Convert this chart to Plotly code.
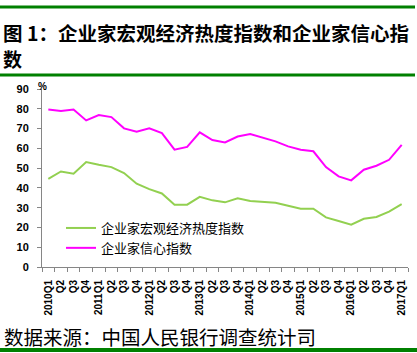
import plotly.graph_objects as go

quarters = ["2010Q1", "Q2", "Q3", "Q4", "2011Q1", "Q2", "Q3", "Q4",
            "2012Q1", "Q2", "Q3", "Q4", "2013Q1", "Q2", "Q3", "Q4",
            "2014Q1", "Q2", "Q3", "Q4", "2015Q1", "Q2", "Q3", "Q4",
            "2016Q1", "Q2", "Q3", "Q4", "2017Q1"]

macro_heat = [44.6, 48.3, 47.2, 53.1, 51.7, 50.5, 47.5, 42.1,
              39.4, 37.2, 31.5, 31.5, 35.5, 33.7, 32.7, 34.7,
              33.4, 33.0, 32.5, 31.0, 29.5, 29.5, 25.1, 23.3,
              21.4, 24.4, 25.3, 28.0, 31.8]

confidence = [79.6, 78.9, 79.6, 74.1, 76.8, 75.8, 70.1, 68.4,
              70.1, 67.7, 59.3, 60.7, 68.1, 64.2, 63.0, 66.0,
              67.2, 65.2, 63.5, 61.0, 59.3, 58.5, 50.5, 45.8,
              43.8, 49.2, 51.2, 54.2, 61.8]

series_names = ["企业家宏观经济热度指数", "企业家信心指数"]
y_ticks = [0, 10, 20, 30, 40, 50, 60, 70, 80, 90]

W, H = 417, 353
L, R, T, B = 42, 9, 89, 86
pw, ph = W - L - R, H - T - B

def px_x(p):
    return (p - L) / pw

def px_y(p):
    return (H - B - p) / ph

xs = list(range(len(quarters)))

fig = go.Figure()
fig.add_trace(go.Scatter(x=xs, y=macro_heat, mode="lines", name=series_names[0],
                         line=dict(color="#92D050", width=2)))
fig.add_trace(go.Scatter(x=xs, y=confidence, mode="lines", name=series_names[1],
                         line=dict(color="#FF00FF", width=2)))

x_font = dict(family="Liberation Sans, Arial", size=10, color="#000000", weight="bold")
y_font = dict(family="Liberation Sans, Arial", size=11, color="#000000", weight="bold")
fig.update_layout(
    width=W, height=H,
    margin=dict(l=L, r=R, t=T, b=B),
    paper_bgcolor="white", plot_bgcolor="white",
    showlegend=True,
    legend=dict(x=px_x(61), y=px_y(213), xanchor="left", yanchor="top",
                bgcolor="rgba(0,0,0,0)", borderwidth=0,
                font=dict(family="Noto Sans CJK SC", size=13, color="#000000"),
                tracegroupgap=0, itemwidth=30),
    xaxis=dict(range=[-0.5, len(quarters) - 0.5], tickmode="array", tickvals=xs,
               ticktext=quarters, tickangle=-90, ticks="", showgrid=False,
               zeroline=False, showline=True, linecolor="#868686", linewidth=1,
               tickfont=x_font, ticklabelstandoff=8,
               minor=dict(tickmode="linear", tick0=-0.5, dtick=1, ticks="outside",
                          ticklen=4, tickcolor="#868686", showgrid=False)),
    yaxis=dict(range=[0, 90], tickmode="array", tickvals=y_ticks, ticks="outside",
               ticklen=4, tickcolor="#868686", showgrid=False, zeroline=False,
               showline=True, linecolor="#868686", linewidth=1, tickfont=y_font,
               ticklabelstandoff=6),
)

title_font = dict(family="Noto Sans CJK SC", size=19.5, color="#000000")
fig.add_annotation(text="<b>图 1：企业家宏观经济热度指数和企业家信心指</b>",
                   xref="paper", yref="paper", align="left", borderpad=0,
                   x=px_x(2), y=px_y(32), xanchor="left", yanchor="middle",
                   showarrow=False, font=title_font)
fig.add_annotation(text="<b>数</b>",
                   xref="paper", yref="paper", align="left", borderpad=0,
                   x=px_x(2), y=px_y(58.5), xanchor="left", yanchor="middle",
                   showarrow=False, font=dict(family="Noto Sans CJK SC", size=19, color="#000000"))
fig.add_annotation(text="<b>%</b>", xref="paper", yref="paper",
                   x=px_x(36), y=px_y(86), xanchor="left", yanchor="middle",
                   showarrow=False, font=dict(family="Liberation Sans, Arial", size=10, color="#000000"))
fig.add_annotation(text="数据来源：中国人民银行调查统计司", xref="paper", yref="paper",
                   x=px_x(2), y=px_y(336), xanchor="left", yanchor="middle",
                   showarrow=False, font=dict(family="Noto Sans CJK SC", size=19.5, color="#000000"))

green = "#008000"
for yy, x0, x1, w in [(7, 0, 415, 3), (75, 0, 415, 3), (350, 0, 417, 4)]:
    fig.add_shape(type="line", xref="paper", yref="paper",
                  x0=px_x(x0), x1=px_x(x1), y0=px_y(yy), y1=px_y(yy),
                  line=dict(color=green, width=w))

fig.write_html("out.html")
